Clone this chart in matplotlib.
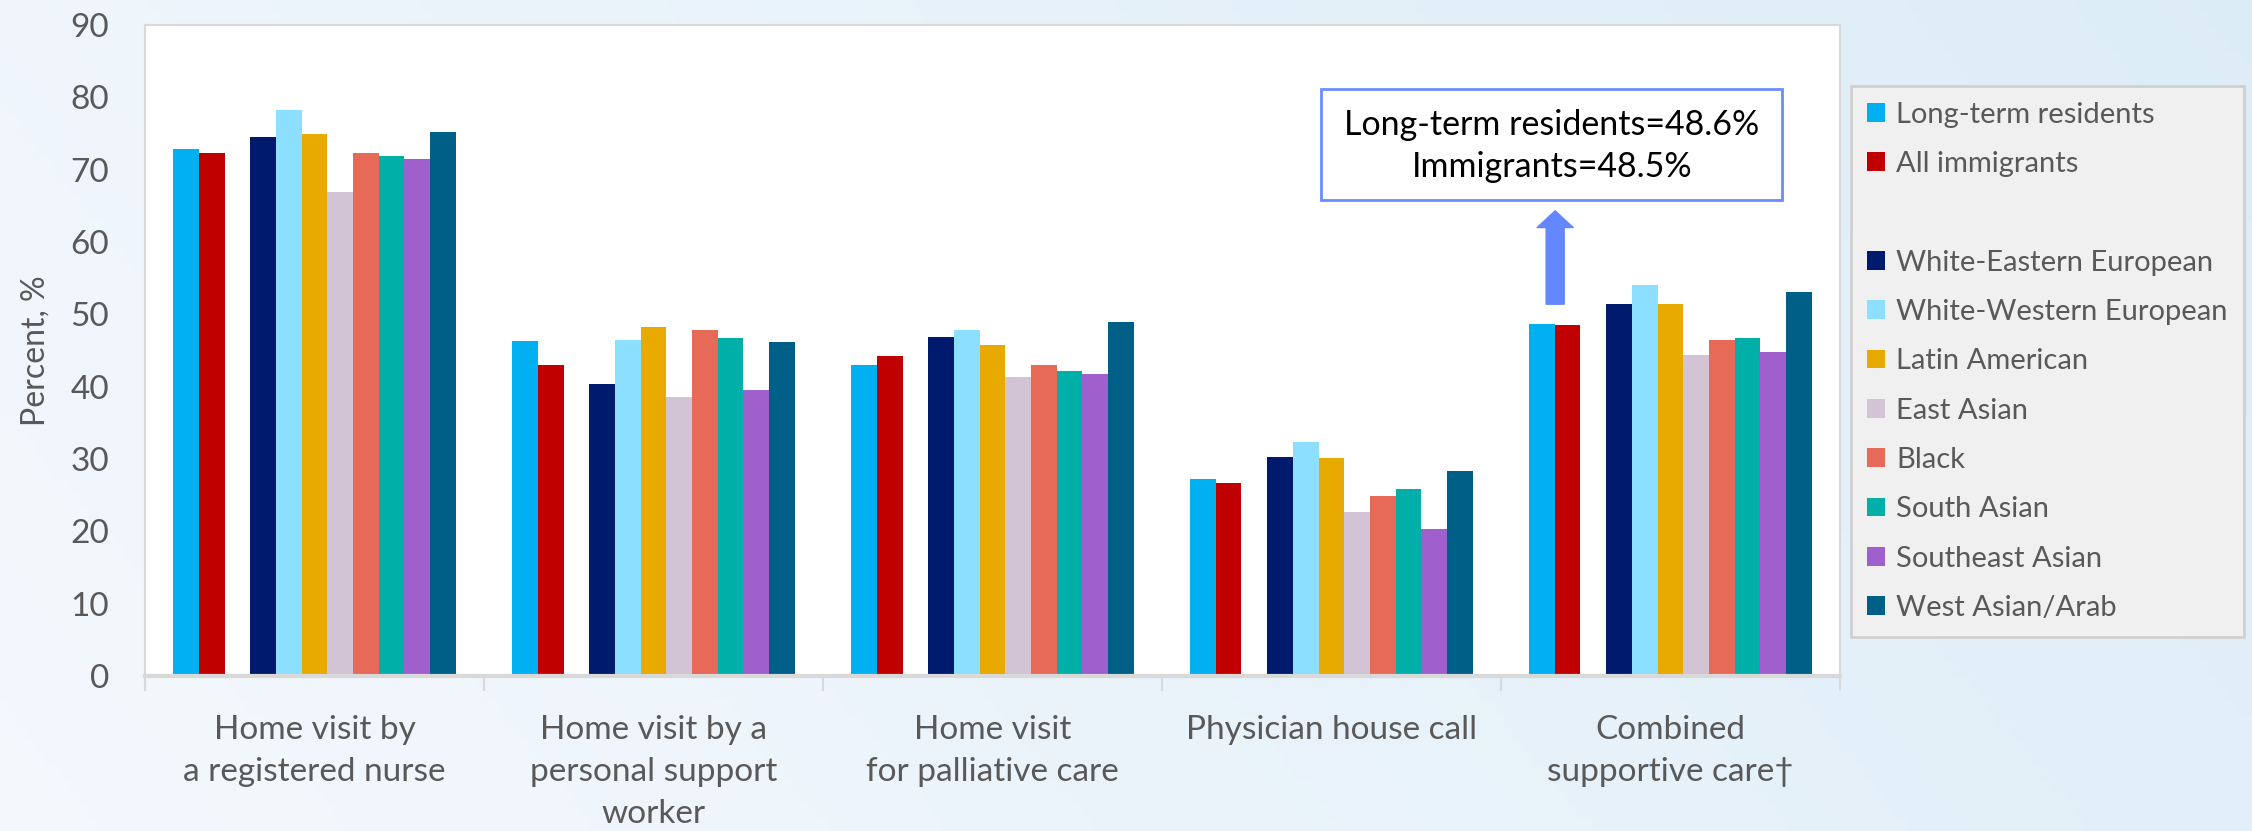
import matplotlib.pyplot as plt
from matplotlib.patches import Patch, Rectangle
import numpy as np

plt.rcParams['font.family'] = ['Lato', 'DejaVu Sans']

categories = ['Home visit by\na registered nurse',
              'Home visit by a\npersonal support\nworker',
              'Home visit\nfor palliative care',
              'Physician house call',
              'Combined\nsupportive care\u2020']

series = ['Long-term residents', 'All immigrants',
          'White-Eastern European', 'White-Western European', 'Latin American',
          'East Asian', 'Black', 'South Asian', 'Southeast Asian', 'West Asian/Arab']

long_term = [72.8, 46.3, 43.0, 27.2, 48.6]
all_imm = [72.3, 43.0, 44.3, 26.7, 48.5]
white_east = [74.5, 40.4, 46.9, 30.3, 51.4]
white_west = [78.3, 46.5, 47.8, 32.4, 54.0]
latin = [74.9, 48.3, 45.8, 30.1, 51.4]
east_asian = [66.9, 38.6, 41.4, 22.7, 44.4]
black = [72.3, 47.8, 43.0, 24.9, 46.5]
south_asian = [71.9, 46.7, 42.2, 25.9, 46.7]
se_asian = [71.5, 39.6, 41.8, 20.3, 44.8]
west_asian = [75.2, 46.2, 49.0, 28.3, 53.1]

all_vals = [long_term, all_imm, white_east, white_west, latin,
            east_asian, black, south_asian, se_asian, west_asian]
colors = ['#00b0f0', '#c00000', '#001a6e', '#8ddfff', '#e8aa00',
          '#d2c3d5', '#e66a57', '#00afa7', '#9f60cd', '#005f86']
slots = [0, 1, 3, 4, 5, 6, 7, 8, 9, 10]

fig = plt.figure(figsize=(22.52, 8.31), dpi=100)

# soft blue gradient background
bg = fig.add_axes([0, 0, 1, 1], zorder=-5)
gx = np.linspace(0, 1, 256)
grad = np.outer(np.linspace(0, 0.3, 64), np.ones(256)) + gx[None, :]
c0 = np.array([0.960, 0.974, 0.994])
c1 = np.array([0.865, 0.928, 0.968])
t = np.clip(grad / grad.max(), 0, 1)[..., None]
bg.imshow(c0 * (1 - t) + c1 * t, aspect='auto', extent=[0, 1, 0, 1], origin='lower')
bg.set_xlim(0, 1)
bg.set_ylim(0, 1)
bg.axis('off')

ax = fig.add_axes([0.0644, 0.1865, 0.7526, 0.7835])
ax.set_facecolor('white')

x = np.arange(len(categories))
w = 0.0758
bars = []
for vals, name, col, s in zip(all_vals, series, colors, slots):
    b = ax.bar(x + (s - 5) * w, vals, width=w, color=col, label=name, zorder=2)
    bars.append(b)

ax.set_xlim(-0.5, 4.5)
ax.set_ylim(0, 90)
ax.set_yticks(range(0, 91, 10))
ax.set_xticks(x)
ax.set_xticklabels(categories, linespacing=1.5)
ax.set_xticks(np.arange(-0.5, 5, 1), minor=True)
ax.tick_params(axis='x', which='major', length=0, pad=28, labelsize=24, labelcolor='#595959')
ax.tick_params(axis='x', which='minor', length=11, width=1.5, color='#d9d9d9')
ax.tick_params(axis='y', length=0, pad=26, labelsize=24, labelcolor='#595959')
ax.set_ylabel('Percent, %', fontsize=23, color='#595959', labelpad=14)

for sp in ax.spines.values():
    sp.set_color('#d9d9d9')
    sp.set_linewidth(1.5)
ax.spines['bottom'].set_linewidth(3)

# callout box with the combined values
ax.add_patch(Rectangle((2.97, 65.8), 1.36, 15.4, facecolor='white',
                       edgecolor='#6b8cff', linewidth=2, zorder=3))
ax.text(3.65, 73.3, 'Long-term residents=48.6%\nImmigrants=48.5%', ha='center', va='center',
        fontsize=24.5, color='black', linespacing=1.4, zorder=4)
ax.annotate('', xy=(3.66, 64.3), xytext=(3.66, 51.4),
            arrowprops=dict(width=13, headwidth=26, headlength=12, color='#6486ff', shrink=0))

handles = [b for b in bars]
handles.insert(2, Patch(facecolor='none', edgecolor='none', label=' '))
labels = series[:2] + [' '] + series[2:]
leg = fig.legend(handles, labels, loc='upper left', bbox_to_anchor=(0.822, 0.897),
                 fontsize=21, frameon=True, fancybox=False, framealpha=1,
                 facecolor='#f0f0f0', edgecolor='#d0d0d0', labelspacing=0.8,
                 handlelength=0.6, handleheight=0.6, handletextpad=0.4,
                 borderpad=0.55, borderaxespad=0)
leg.get_frame().set_linewidth(2)
for txt in leg.get_texts():
    txt.set_color('#595959')

fig.savefig('out.png', dpi=100)
